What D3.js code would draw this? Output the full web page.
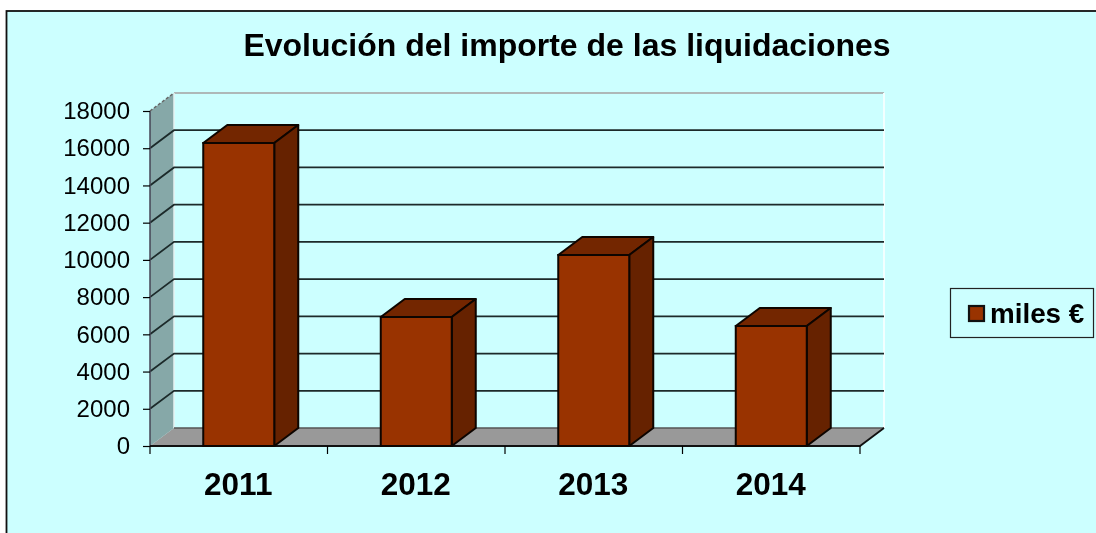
<!DOCTYPE html>
<html><head><meta charset="utf-8">
<style>html,body{margin:0;padding:0;background:#fff;overflow:hidden}svg{display:block}text{font-family:"Liberation Sans",Arial,sans-serif;fill:#000}#c{filter:blur(0.35px)}</style>
<script src="https://cdnjs.cloudflare.com/ajax/libs/d3/7.8.5/d3.min.js"></script>
</head><body><svg id="c" width="1096" height="533"></svg>
<script>
const titleText = "Evolución del importe de las liquidaciones";
const years = ["2011","2012","2013","2014"];
const values = [16280,6930,10260,6450];
const yTicks = [0,2000,4000,6000,8000,10000,12000,14000,16000,18000];
const legendLabel = "miles €";

const svg = d3.select("#c");
const dx = 24, dy = -18;
const x = d3.scaleBand().domain(years).range([150,860]).paddingInner(0.6).paddingOuter(0.3);
const y = d3.scaleLinear().domain([0,18000]).range([446,111]);
const line = d3.line();

svg.append("rect").attr("x",6.5).attr("y",11).attr("width",1100).attr("height",540).attr("fill","#CCFFFF").attr("stroke","#111").attr("stroke-width",1.8);

const x0 = x.range()[0], x1 = x.range()[1], y0 = y(0), yT = y(18000);
// walls
svg.append("path").attr("d",line([[x0,y0],[x0+dx,y0+dy],[x0+dx,yT+dy],[x0,yT]])+"Z").attr("fill","#86A8A8");
svg.append("path").attr("d",line([[x0,y0],[x1,y0],[x1+dx,y0+dy],[x0+dx,y0+dy]])+"Z").attr("fill","#999999");
svg.append("path").attr("d",line([[x0+dx,yT+dy],[x1+dx,yT+dy]])).attr("stroke","#AEB8B8").attr("stroke-width",2).attr("fill","none");
svg.append("path").attr("d",line([[x0+dx,yT+dy],[x0+dx,y0+dy]])).attr("stroke","#E6F2F2").attr("stroke-width",1.5).attr("fill","none");
svg.append("path").attr("d",line([[x1+dx,yT+dy],[x1+dx,y0+dy]])).attr("stroke","#F2FFFF").attr("stroke-width",2).attr("fill","none");
svg.append("path").attr("d",line([[x0+dx,y0+dy],[x1+dx,y0+dy]])).attr("stroke","#555").attr("stroke-width",1.5).attr("fill","none");
// gridlines
svg.append("g").selectAll("path").data(yTicks.filter(d=>d>0&&d<18000)).join("path")
  .attr("d",d=>line([[x0,y(d)],[x0+dx,y(d)+dy],[x1+dx,y(d)+dy]]))
  .attr("fill","none").attr("stroke","#1c2a2a").attr("stroke-width",1.8);
// axis frame
svg.append("path").attr("d",line([[x0,y0],[x0,yT]])).attr("stroke","#445").attr("stroke-width",1.5);
svg.append("path").attr("d",line([[x0,y0],[x1,y0],[x1+dx,y0+dy]])).attr("fill","none").attr("stroke","#111").attr("stroke-width",1.8);
svg.append("path").attr("d",line([[x0,yT],[x0+dx,yT+dy]])).attr("fill","none").attr("stroke","#666").attr("stroke-width",1.5).attr("stroke-dasharray","3 2");

// axes
const yAxis = d3.axisLeft(y).tickValues(yTicks).tickFormat(d=>String(d)).tickSize(7).tickPadding(13);
const gy = svg.append("g").attr("transform",`translate(${x0},0)`).call(yAxis);
gy.select(".domain").remove();
gy.selectAll("line").attr("stroke","#000").attr("stroke-width",1.2);
gy.selectAll("text").style("font-size","24px").style("font-family",'"Liberation Sans"').attr("fill","#000");

const xTickPos = d3.range(years.length+1).map(i=>x0+(x1-x0)*i/years.length);
svg.append("g").selectAll("line").data(xTickPos).join("line")
  .attr("x1",d=>d).attr("x2",d=>d).attr("y1",y0).attr("y2",y0+8).attr("stroke","#000").attr("stroke-width",1.2);
svg.append("g").selectAll("text").data(years).join("text")
  .attr("x",d=>x(d)+x.bandwidth()/2-0.5).attr("y",495).attr("text-anchor","middle")
  .style("font-size","31.5px").style("font-weight","bold").text(d=>d);

// bars
const bars = svg.append("g").selectAll("g").data(years.map((c,i)=>({c,v:values[i]}))).join("g");
const stroke = "#0d0500";
bars.append("path").attr("d",d=>{const a=x(d.c),b=a+x.bandwidth(),t=y(d.v);return line([[a,t],[a+dx,t+dy],[b+dx,t+dy],[b,t]])+"Z";})
  .attr("fill","#732600").attr("stroke",stroke).attr("stroke-width",2).attr("stroke-linejoin","round");
bars.append("path").attr("d",d=>{const b=x(d.c)+x.bandwidth(),t=y(d.v);return line([[b,t],[b+dx,t+dy],[b+dx,y0+dy],[b,y0]])+"Z";})
  .attr("fill","#662200").attr("stroke",stroke).attr("stroke-width",2).attr("stroke-linejoin","round");
bars.append("path").attr("d",d=>{const a=x(d.c),b=a+x.bandwidth(),t=y(d.v);return line([[a,t],[b,t],[b,y0],[a,y0]])+"Z";})
  .attr("fill","#993300").attr("stroke",stroke).attr("stroke-width",2);

// title
svg.append("text").attr("x",567).attr("y",56).attr("text-anchor","middle")
  .style("font-size","32px").style("font-weight","bold").text(titleText);

// legend
svg.append("rect").attr("x",950.5).attr("y",288.5).attr("width",143).attr("height",49).attr("fill","#CCFFFF").attr("stroke","#222").attr("stroke-width",1.2);
svg.append("rect").attr("x",969).attr("y",306).attr("width",15).attr("height",15).attr("fill","#993300").attr("stroke","#111").attr("stroke-width",2.2);
svg.append("text").attr("x",990).attr("y",323).style("font-size","27.8px").style("font-weight","bold").text(legendLabel);
</script></body></html>
